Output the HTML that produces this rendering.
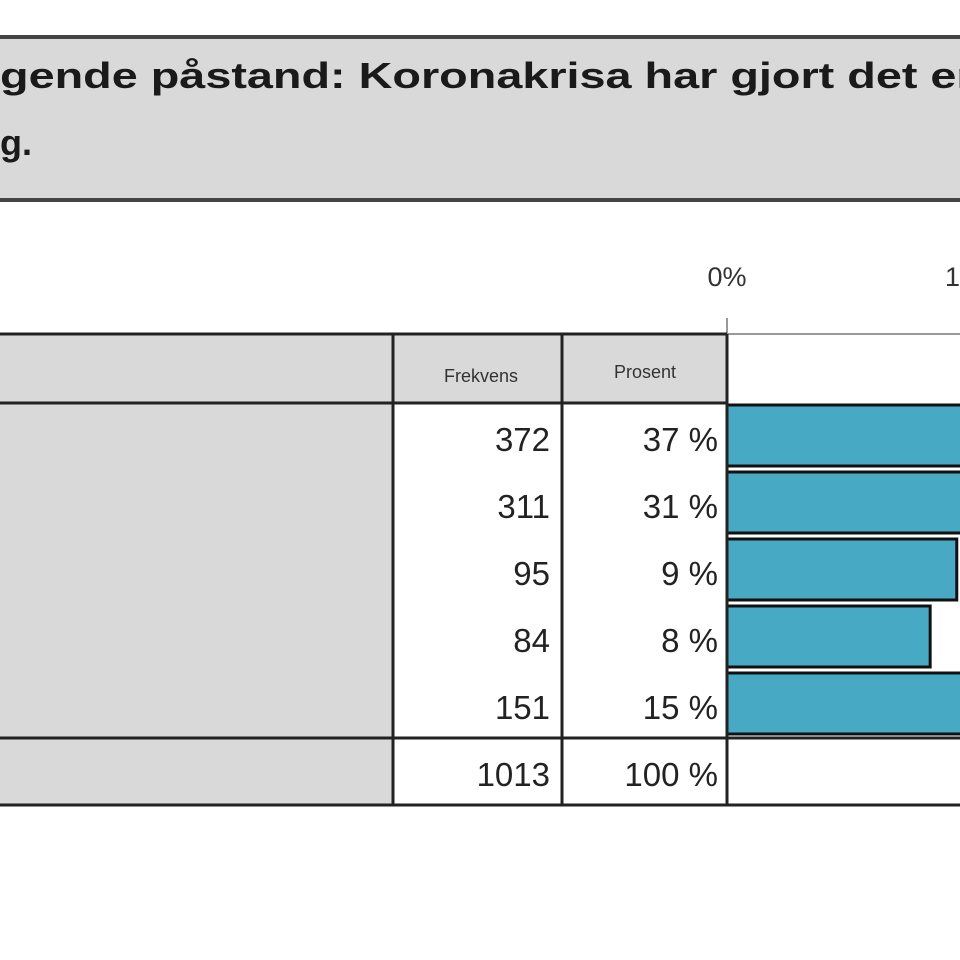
<!DOCTYPE html>
<html><head><meta charset="utf-8"><style>
body{margin:0;background:#fff;}
svg{display:block;font-family:"Liberation Sans",sans-serif;}
</style></head><body>
<svg id="c" width="960" height="960" viewBox="0 0 960 960">
<rect x="-5" y="37" width="970" height="163" fill="#d9d9d9" stroke="#444" stroke-width="4"/>
<text x="0" y="88" font-size="36" font-weight="bold" fill="#1a1a1a" textLength="985" lengthAdjust="spacingAndGlyphs">gende påstand: Koronakrisa har gjort det en</text>
<text x="0" y="155" font-size="36" font-weight="bold" fill="#1a1a1a">g.</text>
<rect x="-5" y="334" width="398" height="471" fill="#d9d9d9"/>
<rect x="393" y="334" width="334" height="69" fill="#d9d9d9"/>
<text x="481" y="382" font-size="18" text-anchor="middle" fill="#333">Frekvens</text>
<text x="645" y="378" font-size="18" text-anchor="middle" fill="#333">Prosent</text>
<text x="727" y="286" font-size="27" text-anchor="middle" fill="#333">0%</text>
<text x="972" y="286" font-size="27" text-anchor="middle" fill="#333">10%</text>
<line x1="727" y1="318" x2="727" y2="334" stroke="#999" stroke-width="2"/>
<line x1="727" y1="334" x2="960" y2="334" stroke="#999" stroke-width="2"/>
<g id="rows"></g>
<g stroke="#222" stroke-width="3" fill="none">
<line x1="-5" y1="334" x2="727" y2="334"/>
<line x1="-5" y1="403" x2="727" y2="403"/>
<line x1="-5" y1="738" x2="960" y2="738"/>
<line x1="-5" y1="805" x2="960" y2="805"/>
<line x1="393" y1="334" x2="393" y2="805"/>
<line x1="562" y1="334" x2="562" y2="805"/>
<line x1="727" y1="334" x2="727" y2="805"/>
</g>
</svg>
<script>
const freq=[372,311,95,84,151];
const pctLabels=["37 %","31 %","9 %","8 %","15 %"];
const total=1013;
const totalLabel="100 %";
const ns="http://www.w3.org/2000/svg";
const x0=727, pxPerPct=24.5, rowTop=403, rowH=67;
function xs(p){return x0+p*pxPerPct;}
const g=document.getElementById('rows');
function mk(t,a){const e=document.createElementNS(ns,t);for(const k in a)e.setAttribute(k,a[k]);return e;}
freq.forEach((f,i)=>{
  const y=rowTop+i*rowH;
  const p=f/total*100;
  const r=mk('rect',{x:x0,y:y+2,width:xs(p)-x0,height:rowH-6,fill:'#47a9c4',stroke:'#111','stroke-width':3});
  
  
  g.appendChild(r);
  const t1=mk('text',{x:550,y:y+48,'font-size':33,'text-anchor':'end',fill:'#222'});
  t1.textContent=f;
  
  
  g.appendChild(t1);
  const t2=mk('text',{x:718,y:y+48,'font-size':33,'text-anchor':'end',fill:'#222'});
  t2.textContent=pctLabels[i];
  
  
  g.appendChild(t2);
});
const ty=rowTop+freq.length*rowH;
const a=mk('text',{x:550,y:ty+48,'font-size':33,'text-anchor':'end',fill:'#222'});
a.textContent=total;


g.appendChild(a);
const b=mk('text',{x:718,y:ty+48,'font-size':33,'text-anchor':'end',fill:'#222'});
b.textContent=totalLabel;


g.appendChild(b);
</script>
</body></html>
